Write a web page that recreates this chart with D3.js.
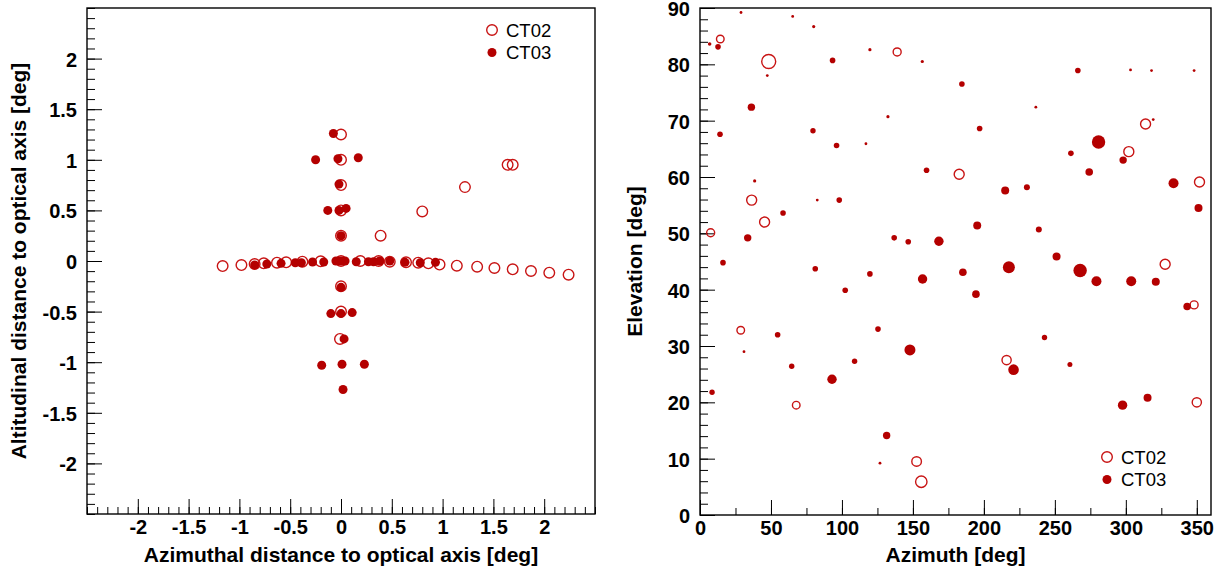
<!DOCTYPE html>
<html><head><meta charset="utf-8">
<script src="https://cdn.jsdelivr.net/npm/d3@7"></script>
<style>
body{margin:0;background:#fff;}
svg{display:block;font-family:"Liberation Sans",Arial,sans-serif;}
</style></head>
<body><svg id="c" width="1226" height="576"></svg>
<script>
// ---------- Left panel: offsets relative to optical axis (deg) ----------
const ct02OffAz = [0,0,0,0,0,0,0,0,-0.01,
  0.39,0.80,1.22,1.64,1.69,
  -1.165,-0.98,-0.85,-0.76,-0.63,-0.54,-0.38,-0.2,0.19,0.37,0.48,0.64,0.76,0.86,0.97,1.14,1.34,1.51,1.69,1.87,2.05,2.24];
const ct02OffAlt = [1.25,1.0,0.75,0.5,0.25,0,-0.25,-0.5,-0.77,
  0.25,0.49,0.73,0.95,0.95,
  -0.05,-0.04,-0.03,-0.023,-0.017,-0.013,-0.007,-0.003,0,0,-0.007,-0.013,-0.017,-0.023,-0.035,-0.046,-0.056,-0.069,-0.082,-0.099,-0.115,-0.135];
const ct03OffAz = [-0.075,-0.25,-0.03,0.17,-0.02,-0.13,-0.02,0.05,0,0,-0.10,0,0.11,0.03,-0.19,0.01,0.23,0.02,
  -0.85,-0.73,-0.59,-0.45,-0.39,-0.28,-0.17,-0.05,-0.02,0.01,0.04,0.15,0.27,0.32,0.38,0.48,0.63,0.78,0.93];
const ct03OffAlt = [1.26,1.0,1.01,1.02,0.76,0.50,0.50,0.52,0.25,-0.26,-0.52,-0.52,-0.51,-0.77,-1.03,-1.02,-1.02,-1.27,
  -0.04,-0.03,-0.023,-0.017,-0.017,-0.01,-0.01,0,0,0,0,-0.007,-0.007,-0.007,0,0,-0.013,-0.017,-0.013];

// ---------- Right panel: pointing directions (deg) and marker weight ----------
const ct02Az = [14.3,48.4,138.9,182.6,313.9,302.1,36.4,45.5,7.5,28.7,351.9,327.7,348.1,67.8,152.6,155.9,216.0,350.0];
const ct02El = [84.5,80.5,82.2,60.5,69.4,64.5,55.9,52.0,50.1,32.8,59.1,44.5,37.3,19.5,9.5,5.9,27.5,20.0];
const ct02W  = [3.8,7,4,5,5,5,5,5,4,3.8,5,5,4,3.8,4.8,5.7,4.6,4.6];

const ct03Az = [28.9,65.3,80.1,6.8,12.7,47.4,93.4,119.7,156.6,36.2,132.4,14.1,79.6,96.2,116.9,159.6,38.5,
  266.2,303.3,318.1,348.1,184.5,236.6,197.0,319.3,280.8,261.3,298.1,274.2,
  82.6,98.1,58.5,33.6,136.8,146.7,168.3,16.2,81.2,119.7,156.8,102.3,54.7,125.4,147.9,
  215.0,230.3,333.6,351.2,195.3,238.7,251.2,185.2,217.6,267.8,279.3,303.8,321.1,194.4,343.2,242.7,
  31.0,64.6,108.9,93.0,8.5,131.5,126.8,220.9,260.6,297.7,315.3];
const ct03El = [89.2,88.5,86.7,83.6,83.1,78.0,80.7,82.6,80.5,72.4,70.7,67.6,68.2,65.6,65.9,61.2,59.3,
  78.9,79.0,78.9,78.9,76.5,72.4,68.6,70.2,66.2,64.2,63.0,60.9,
  55.9,55.9,53.6,49.2,49.2,48.5,48.6,44.8,43.7,42.8,41.9,39.9,32.0,33.0,29.3,
  57.6,58.2,58.9,54.5,51.4,50.7,45.9,43.1,44.0,43.4,41.5,41.5,41.4,39.2,37.0,31.5,
  29.0,26.4,27.3,24.1,21.8,14.1,9.2,25.8,26.7,19.5,20.8];
const ct03W  = [1.4,1.4,1.6,1.8,2.8,1.4,2.8,1.6,1.6,3.7,1.6,2.8,2.7,2.8,1.4,2.8,1.6,
  2.8,1.4,1.4,1.4,2.8,1.4,2.8,1.4,6.7,2.8,3.7,3.8,
  1.4,2.8,2.8,3.7,2.8,2.8,4.7,2.8,2.8,2.8,4.7,2.8,2.8,2.8,5.5,
  4,3,5,4,4,3,4,3.8,6,6.7,5,5,4,3.8,3.8,2.7,
  1.4,2.7,2.7,4.7,2.7,3.7,1.4,5.3,2.5,4.7,4];

const xTicksL = [-2,-1.5,-1,-0.5,0,0.5,1,1.5,2];
const yTicksL = [-2,-1.5,-1,-0.5,0,0.5,1,1.5,2];
const xTicksR = [0,50,100,150,200,250,300,350];
const yTicksR = [0,10,20,30,40,50,60,70,80,90];
const seriesNames = ["CT02","CT03"];

const RED = "#b40000";
const FONT = "'Liberation Sans',Arial,sans-serif";
const svg = d3.select("#c");

function frameAxes(g, x, y, xMaj, xMin, yMaj, yMin, xTitle, yTitle, yTitleX){
  const [x0,x1] = x.range(); const [y0,y1] = y.range();
  const fmt = d => String(d);
  g.append("g").attr("transform",`translate(0,${y0})`)
    .call(d3.axisBottom(x).tickValues(xMin).tickSize(-7).tickFormat(""))
    .call(a=>a.select(".domain").remove());
  g.append("g").attr("transform",`translate(0,${y0})`)
    .call(d3.axisBottom(x).tickValues(xMaj).tickSize(-15).tickPadding(6).tickFormat(fmt))
    .call(a=>a.select(".domain").remove())
    .call(a=>a.selectAll("text").attr("font-size",20).attr("font-weight","bold").attr("fill","#000")
      .attr("font-family",FONT));
  g.append("g").attr("transform",`translate(${x0},0)`)
    .call(d3.axisLeft(y).tickValues(yMin).tickSize(-8).tickFormat(""))
    .call(a=>a.select(".domain").remove());
  g.append("g").attr("transform",`translate(${x0},0)`)
    .call(d3.axisLeft(y).tickValues(yMaj).tickSize(-15).tickPadding(10).tickFormat(fmt))
    .call(a=>a.select(".domain").remove())
    .call(a=>a.selectAll("text").attr("font-size",20).attr("font-weight","bold").attr("fill","#000")
      .attr("dy","0.37em").attr("font-family",FONT));
  g.selectAll(".tick line").attr("stroke","#000").attr("stroke-width",1);
  g.append("rect").attr("x",x0).attr("y",y1).attr("width",x1-x0).attr("height",y0-y1)
    .attr("fill","none").attr("stroke","#000").attr("stroke-width",1.4);
  g.append("text").attr("x",(x0+x1)/2).attr("y",562).attr("text-anchor","middle")
    .attr("font-size",21).attr("font-weight","bold").text(xTitle);
  g.append("text").attr("transform",`translate(${yTitleX},${(y0+y1)/2}) rotate(-90)`)
    .attr("text-anchor","middle").attr("font-size",21).attr("font-weight","bold").text(yTitle);
}

function legend(g, lx, ly){
  const items = [{n:seriesNames[0],open:true},{n:seriesNames[1],open:false}];
  items.forEach((it,i)=>{
    const cy = ly + i*22.5;
    g.append("circle").attr("cx",lx).attr("cy",cy).attr("r",it.open?5.3:4.5)
      .attr("fill",it.open?"none":RED).attr("stroke",it.open?"#c81414":"none").attr("stroke-width",1.4);
    g.append("text").attr("x",lx+14).attr("y",cy).attr("dy","0.36em")
      .attr("font-size",18.5).attr("fill","#000").text(it.n);
  });
}

// ---- Left panel ----
const xL = d3.scaleLinear().domain([-2.5,2.5]).range([87,595]);
const yL = d3.scaleLinear().domain([-2.5,2.5]).range([514,8]);
const gL = svg.append("g");
frameAxes(gL, xL, yL, xTicksL, d3.range(-25,26).map(d=>d/10), yTicksL, d3.range(-25,26).map(d=>d/10),
  "Azimuthal distance to optical axis [deg]", "Altitudinal distance to optical axis [deg]", 25.5);
gL.append("g").selectAll("circle").data(d3.range(ct02OffAz.length)).join("circle")
  .attr("cx",i=>xL(ct02OffAz[i])).attr("cy",i=>yL(ct02OffAlt[i])).attr("r",5.3)
  .attr("fill","none").attr("stroke","#c81414").attr("stroke-width",1.4);
gL.append("g").selectAll("circle").data(d3.range(ct03OffAz.length)).join("circle")
  .attr("cx",i=>xL(ct03OffAz[i])).attr("cy",i=>yL(ct03OffAlt[i])).attr("r",4.5)
  .attr("fill",RED);
legend(gL, 492, 30);

// ---- Right panel ----
const xR = d3.scaleLinear().domain([0,360]).range([700,1211]);
const yR = d3.scaleLinear().domain([0,90]).range([515,8]);
const rS = d3.scaleLinear().domain([0,7]).range([0,7]);
const gR = svg.append("g");
frameAxes(gR, xR, yR, xTicksR, d3.range(0,361,25), yTicksR, d3.range(0,91,2),
  "Azimuth [deg]", "Elevation [deg]", 641.5);
gR.append("g").selectAll("circle").data(d3.range(ct02Az.length)).join("circle")
  .attr("cx",i=>xR(ct02Az[i])).attr("cy",i=>yR(ct02El[i])).attr("r",i=>rS(ct02W[i]))
  .attr("fill","none").attr("stroke","#c81414").attr("stroke-width",1.4);
gR.append("g").selectAll("circle").data(d3.range(ct03Az.length)).join("circle")
  .attr("cx",i=>xR(ct03Az[i])).attr("cy",i=>yR(ct03El[i])).attr("r",i=>rS(ct03W[i]))
  .attr("fill",RED);
legend(gR, 1107, 457);
</script></body></html>
